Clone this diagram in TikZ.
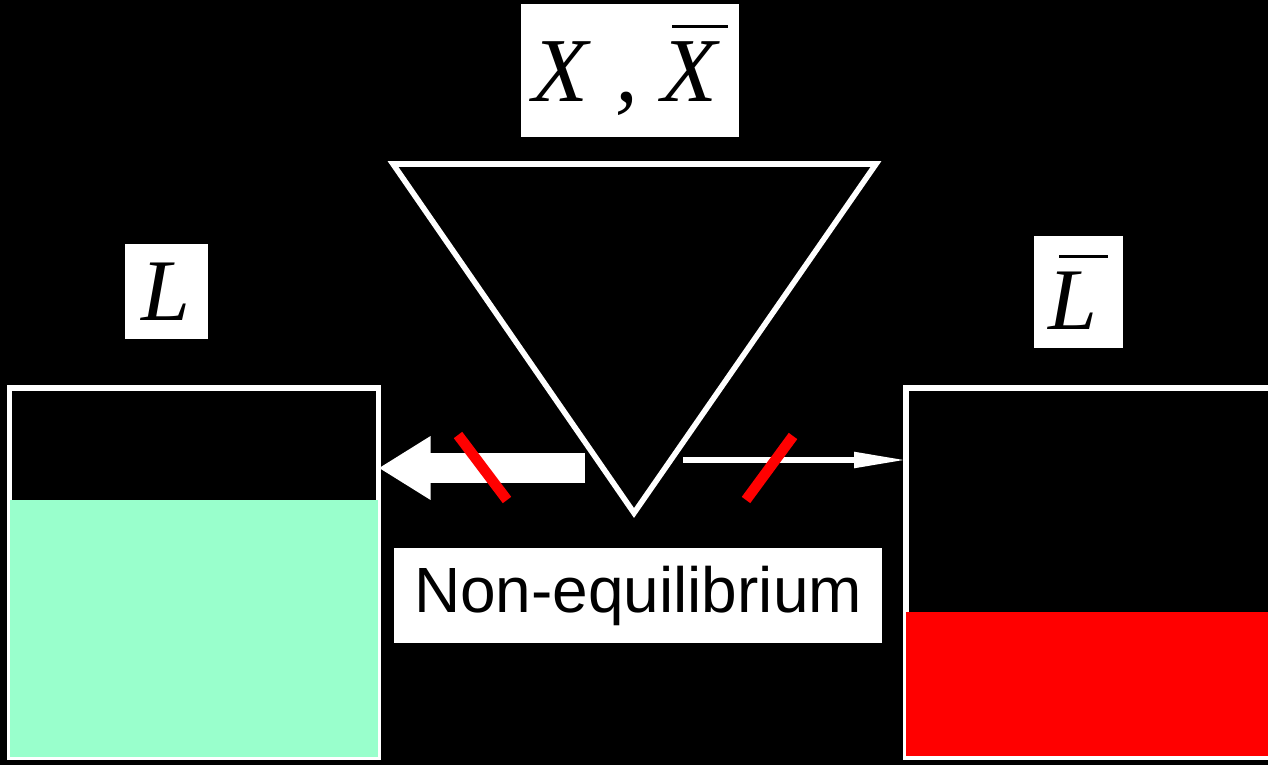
\documentclass[tikz,border=0pt]{standalone}
\usepackage{fontspec}
\setmainfont{Liberation Serif}
\newfontfamily\eqsans{Liberation Sans}
\definecolor{eqMint}{RGB}{153,255,204}
\definecolor{eqRed}{RGB}{255,0,0}
\usetikzlibrary{arrows.meta,positioning}
% bar over an italic letter
\newcommand{\barred}[1]{\setbox0\hbox{#1}\vbox{\offinterlineskip\hbox{\kern0.12em\vrule width\wd0 height 0.9pt depth 0pt}\kern4pt\box0}}

\begin{document}
\begin{tikzpicture}[
    tank/.style={draw=white, line width=1.7pt, inner sep=0pt, outer sep=0pt},
    tag/.style={fill=white, text=black, inner sep=0pt, outer sep=0pt, font=\fontsize{25}{30}\selectfont\itshape},
    cut/.style={draw=eqRed, line width=3pt},
    ]
    \useasboundingbox (0,0) rectangle (12.68,7.65);
    \fill[black] (0,0) rectangle (12.68,7.65);
    \clip (0,0) rectangle (12.68,7.65);

    % labels
    \node[tag, font=\fontsize{26}{30}\selectfont\itshape, minimum width=2.18cm, minimum height=1.33cm] (xtag) at (6.30,6.945) {X\hspace{0.05em} , \barred{X}};
    \node[tag, minimum width=0.83cm, minimum height=0.95cm] (ltag) at (1.66,4.735) {L};
    \node[tag, minimum width=0.89cm, minimum height=1.12cm] (lbartag) at (10.785,4.73) {\barred{L}};
    \node[tag, font=\eqsans\fontsize{18.2}{22}\selectfont, minimum width=4.88cm, minimum height=0.95cm] (eqtag) at (6.38,1.695) {Non-equilibrium};

    % reservoirs
    \node[tank, minimum width=3.69cm, minimum height=3.695cm] (lbox) at (1.94,1.9225) {};
    \fill[eqMint] (0.10,0.08) rectangle (3.78,2.65);
    \node[tank, minimum width=3.84cm, minimum height=3.695cm] (rbox) at (10.98,1.9225) {};
    \fill[eqRed] (9.06,0.09) rectangle (12.9,1.53);

    % source
    \coordinate (tl) at (3.93,6.01);
    \coordinate (tr) at (8.76,6.01);
    \coordinate (tip) at (6.34,2.52);
    \draw[white, line width=1.6pt] (tl) -- (tr) -- (tip) -- cycle;

    % flows
    \coordinate (lfrom) at (5.85,2.97);
    \coordinate (rfrom) at (6.83,3.05);
    \draw[white, line width=0.30cm, -{Triangle[length=0.52cm,width=0.60cm]}] (lfrom) -- (lfrom -| lbox.east);
    \draw[white, line width=1.5pt, -{Triangle[length=0.52cm,width=0.15cm]}] (rfrom) -- (rfrom -| rbox.west);

    \draw[cut] (4.58,3.30) -- (5.07,2.65);
    \draw[cut] (7.93,3.29) -- (7.46,2.65);
\end{tikzpicture}
\end{document}
